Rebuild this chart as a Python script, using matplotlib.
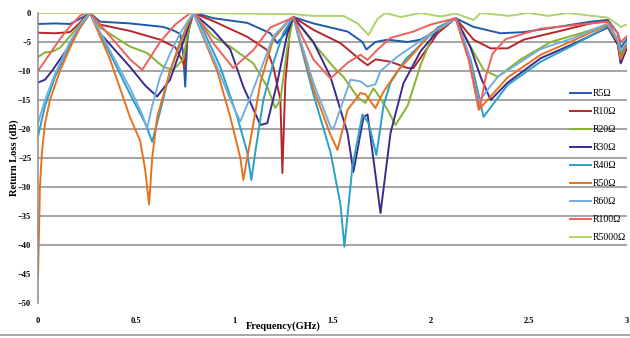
import matplotlib

matplotlib.use("Agg")
import matplotlib.pyplot as plt
from matplotlib.lines import Line2D

# frequency (GHz) / return loss (dB), one pair of lists per load
f_r5 = [0, 0.087, 0.163, 0.214, 0.255, 0.265, 0.316, 0.469, 0.638, 0.689, 0.724, 0.740, 0.750, 0.760, 0.776, 0.801,
        0.893, 1.066, 1.184, 1.219, 1.260, 1.301, 1.403, 1.577, 1.653, 1.673, 1.719, 1.781, 1.883, 1.949, 2.036, 2.128,
        2.219, 2.357, 2.474, 2.648, 2.816, 2.903, 2.954, 2.969, 3.0]
rl_r5 = [-1.9, -1.8, -1.9, -1.0, -0.2, 0, -1.5, -1.8, -2.4, -3.0, -3.6, -7, -12.7, -5, -1, 0,
         -0.9, -1.7, -3.5, -5.2, -3.5, -0.7, -1.8, -3.2, -5.0, -6.3, -5.0, -4.6, -5.0, -4.6, -3, -0.9,
         -2.4, -3.5, -3.3, -2.4, -1.5, -1.2, -3.5, -6, -4.5]

f_r10 = [0, 0.087, 0.163, 0.204, 0.255, 0.265, 0.276, 0.316, 0.469, 0.622, 0.699, 0.740, 0.745, 0.760, 0.791,
         0.893, 1.066, 1.168, 1.199, 1.235, 1.245, 1.260, 1.286, 1.301, 1.403, 1.541, 1.643, 1.679, 1.719, 1.796,
         1.883, 1.913, 1.964, 2.036, 2.128, 2.219, 2.306, 2.393, 2.474, 2.648, 2.816, 2.903, 2.954, 2.969, 3.0]
rl_r10 = [-3.4, -3.5, -3.3, -2.0, -0.2, 0, -0.5, -2.0, -3.1, -4.6, -5.9, -8.5, -9.5, -4, 0,
          -1.4, -4.1, -6.4, -9.3, -15, -27.6, -12, -2, -0.7, -2.9, -5.2, -8.1, -9.0, -8.0, -8.4,
          -9.5, -9.5, -7, -3.5, -0.9, -4.6, -6.1, -6.1, -4.6, -3.2, -1.8, -1.4, -5, -8.5, -6]

f_r20 = [0, 0.036, 0.071, 0.112, 0.163, 0.214, 0.255, 0.265, 0.316, 0.469, 0.556, 0.638, 0.689, 0.740, 0.760, 0.791,
         0.893, 0.980, 1.097, 1.168, 1.209, 1.235, 1.270, 1.301, 1.403, 1.505, 1.556, 1.628, 1.668, 1.709, 1.730,
         1.781, 1.821, 1.883, 1.949, 2.015, 2.128, 2.204, 2.270, 2.342, 2.459, 2.612, 2.765, 2.903, 2.954, 2.969, 3.0]
rl_r20 = [-7.6, -6.8, -6.7, -6.0, -4.0, -2.0, -0.3, 0, -2.5, -5.8, -6.9, -9.3, -9.8, -8.0, -4, 0,
          -4.1, -5.8, -8.7, -12.7, -16.4, -15, -6, -0.7, -5.2, -9.3, -11, -14.5, -15.5, -13, -14,
          -16.7, -19.3, -16, -9, -3.5, -0.9, -5.8, -9.8, -11, -8, -5, -3.5, -2.0, -5, -7, -5]

f_r30 = [0, 0.036, 0.071, 0.112, 0.163, 0.214, 0.265, 0.316, 0.469, 0.546, 0.607, 0.673, 0.740, 0.791,
         0.893, 0.980, 1.046, 1.133, 1.168, 1.219, 1.270, 1.301, 1.403, 1.490, 1.577, 1.607, 1.658, 1.679, 1.745,
         1.796, 1.862, 1.949, 2.051, 2.128, 2.204, 2.255, 2.306, 2.393, 2.561, 2.730, 2.903, 2.954, 2.969, 3.0]
rl_r30 = [-12.0, -11.5, -10.0, -8.0, -5.5, -2.5, 0, -3.5, -9.3, -12.5, -14.4, -11.5, -5, 0,
          -3, -6.3, -12.7, -19.3, -19, -12, -3.6, -0.7, -5, -11, -20.7, -27.4, -18, -17.5, -34.5,
          -20.7, -12.1, -6.6, -2.5, -0.9, -6, -11, -15, -12, -7.8, -5.3, -2.5, -5.5, -8.7, -6]

f_r40 = [0, 0.036, 0.087, 0.163, 0.214, 0.265, 0.367, 0.469, 0.546, 0.582, 0.622, 0.673, 0.724, 0.776, 0.801,
         0.929, 1.015, 1.066, 1.087, 1.107, 1.148, 1.199, 1.250, 1.301, 1.403, 1.490, 1.541, 1.561, 1.602, 1.653,
         1.684, 1.724, 1.760, 1.796, 1.872, 1.949, 2.036, 2.128, 2.204, 2.270, 2.393, 2.561, 2.730, 2.903, 2.954,
         2.969, 3.0]
rl_r40 = [-21.3, -16, -11, -5.5, -2.5, 0, -7, -14, -19, -22.2, -17, -10, -5, -1, 0,
          -9.3, -17.9, -24, -28.8, -24, -15, -8.6, -3.4, -0.7, -14, -24, -33, -40.3, -26.5, -17.5,
          -19, -24.5, -16, -12, -8, -5.5, -2.5, -0.9, -8, -17.9, -12.4, -8.4, -5.5, -2.3, -5,
          -7.5, -5.5]

f_r50 = [0, 0.005, 0.010, 0.020, 0.036, 0.061, 0.112, 0.163, 0.214, 0.265, 0.367, 0.469, 0.520, 0.546, 0.566,
         0.582, 0.607, 0.673, 0.750, 0.791, 0.913, 0.980, 1.031, 1.046, 1.082, 1.133, 1.199, 1.286, 1.301,
         1.403, 1.490, 1.526, 1.577, 1.643, 1.668, 1.719, 1.760, 1.832, 1.913, 2.000, 2.128,
         2.194, 2.245, 2.393, 2.561, 2.730, 2.903, 2.954, 2.969, 3.0]
rl_r50 = [-45.5, -38, -30, -24, -19, -15, -10, -6, -2.5, 0, -8, -18, -22, -27, -33,
          -25, -18, -10, -3, 0, -10, -18, -25, -28.8, -22, -12, -4.5, -1, -0.7,
          -13, -21, -23.6, -16.7, -13.8, -14, -16.4, -13.6, -10, -7, -3.5, -0.9,
          -8, -16.7, -11.1, -7.2, -4.7, -2.0, -5, -8, -5.5]

f_r60 = [0, 0.036, 0.087, 0.163, 0.214, 0.265, 0.367, 0.469, 0.531, 0.556, 0.582, 0.622, 0.673, 0.724, 0.791,
         0.913, 0.980, 1.031, 1.082, 1.148, 1.199, 1.286, 1.301, 1.403, 1.490, 1.505, 1.592, 1.643, 1.679, 1.719,
         1.745, 1.832, 1.949, 2.128, 2.194, 2.240, 2.342, 2.561, 2.730, 2.903, 2.954, 2.969, 3.0]
rl_r60 = [-19, -15, -10.5, -5, -2, 0, -6.5, -13, -17.5, -19.9, -16, -11, -7, -3.5, 0,
          -9.3, -15, -18.7, -14.5, -8.6, -4, -1, -0.7, -12, -19.6, -20, -11.5, -11.8, -12.7, -12.3,
          -10, -7.5, -4.8, -0.9, -7, -15.5, -11, -6.2, -4.3, -1.8, -4.5, -6.5, -5]

f_r100 = [0, 0.061, 0.112, 0.163, 0.214, 0.240, 0.265, 0.367, 0.469, 0.531, 0.622, 0.699, 0.776, 0.801,
          0.893, 0.995, 1.097, 1.184, 1.286, 1.301, 1.337, 1.403, 1.490, 1.577, 1.643, 1.679, 1.730, 1.796,
          1.913, 2.000, 2.128, 2.194, 2.250, 2.281, 2.316, 2.383, 2.561, 2.903, 2.954, 2.969, 3.0]
rl_r100 = [-10, -7, -4.5, -2.3, -0.5, 0, 0, -4, -8, -9.8, -5, -2, 0, 0,
           -5.2, -9.5, -6.4, -2.5, -1, -0.7, -3.4, -8, -11.3, -8.6, -7.2, -8.1, -6.3, -4.3,
           -3.2, -2, -0.9, -8, -16.5, -11, -7, -4.5, -2.7, -1.5, -3.5, -5, -4]

f_r5000 = [0, 0.801, 1.301, 1.400, 1.556, 1.628, 1.684, 1.730, 1.770, 1.847, 1.949, 2.051, 2.128, 2.219, 2.255,
           2.400, 2.500, 2.600, 2.700, 2.800, 2.903, 2.954, 2.969, 3.0]
rl_r5000 = [0, 0, -0.2, -0.5, -0.5, -1.8, -3.8, -1, 0, -0.7, 0, -0.6, -0.1, -1.2, 0,
            -0.5, 0, -0.5, 0, -0.4, -0.8, -2, -2.4, -2]

labels = ["R5Ω", "R10Ω", "R20Ω", "R30Ω", "R40Ω", "R50Ω", "R60Ω", "R100Ω", "R5000Ω"]
colors = ["#1f5ba8", "#b8262a", "#86b432", "#3d2a8e", "#2aa0c4", "#e8711c", "#74aee0", "#f0605a", "#acd46c"]
series = [(f_r5, rl_r5), (f_r10, rl_r10), (f_r20, rl_r20), (f_r30, rl_r30), (f_r40, rl_r40),
          (f_r50, rl_r50), (f_r60, rl_r60), (f_r100, rl_r100), (f_r5000, rl_r5000)]

yticks = [0, -5, -10, -15, -20, -25, -30, -35, -40, -45, -50]
xticks = [0, 0.5, 1, 1.5, 2, 2.5, 3]
xticklabels = ["0", "0.5", "1", "1.5", "2", "2.5", "3"]

fig = plt.figure(figsize=(6.3, 3.38), dpi=100)
ax = fig.add_axes([0.0603, 0.1036, 0.9347, 0.858])

for y in yticks[1:9]:
    ax.axhline(y, color="#8c8c8c", linewidth=1.1, zorder=0)

for (f, rl), lab, col in zip(series, labels, colors):
    ax.plot(f, rl, color=col, linewidth=1.4, label=lab, solid_joinstyle="round")

ax.set_xlim(0, 3)
ax.set_ylim(-50, 0)
ax.set_xticks(xticks)
ax.set_xticklabels(xticklabels)
ax.set_yticks(yticks)
ax.tick_params(axis="x", length=0, labelsize=6, pad=10)
ax.tick_params(axis="y", length=0, labelsize=6, pad=5)
for t in ax.get_xticklabels() + ax.get_yticklabels():
    t.set_fontfamily("Liberation Serif")
    t.set_fontweight("bold")
for side in ["top", "right", "bottom"]:
    ax.spines[side].set_visible(False)
ax.spines["left"].set_color("#8c8c8c")
ax.spines["left"].set_linewidth(1.1)

ax.set_xlabel("Frequency(GHz)", fontfamily="Liberation Serif", fontweight="bold", fontsize=7.5)
ax.xaxis.set_label_coords(0.416, -0.062)
ax.set_ylabel("Return Loss (dB)", fontfamily="Liberation Serif", fontweight="bold", fontsize=7.5)
ax.yaxis.set_label_coords(-0.032, 0.5)

leg = ax.legend(loc="upper right", bbox_to_anchor=(1.005, 0.75), frameon=False, fontsize=7,
                handlelength=2.1, handletextpad=0.2, labelspacing=0.92, borderaxespad=0)
for t in leg.get_texts():
    t.set_fontfamily("Liberation Serif")

fig.add_artist(Line2D([0, 1], [0.008, 0.008], color="#9a9a9a", linewidth=1.2, transform=fig.transFigure))

fig.savefig("out.png", dpi=100)
